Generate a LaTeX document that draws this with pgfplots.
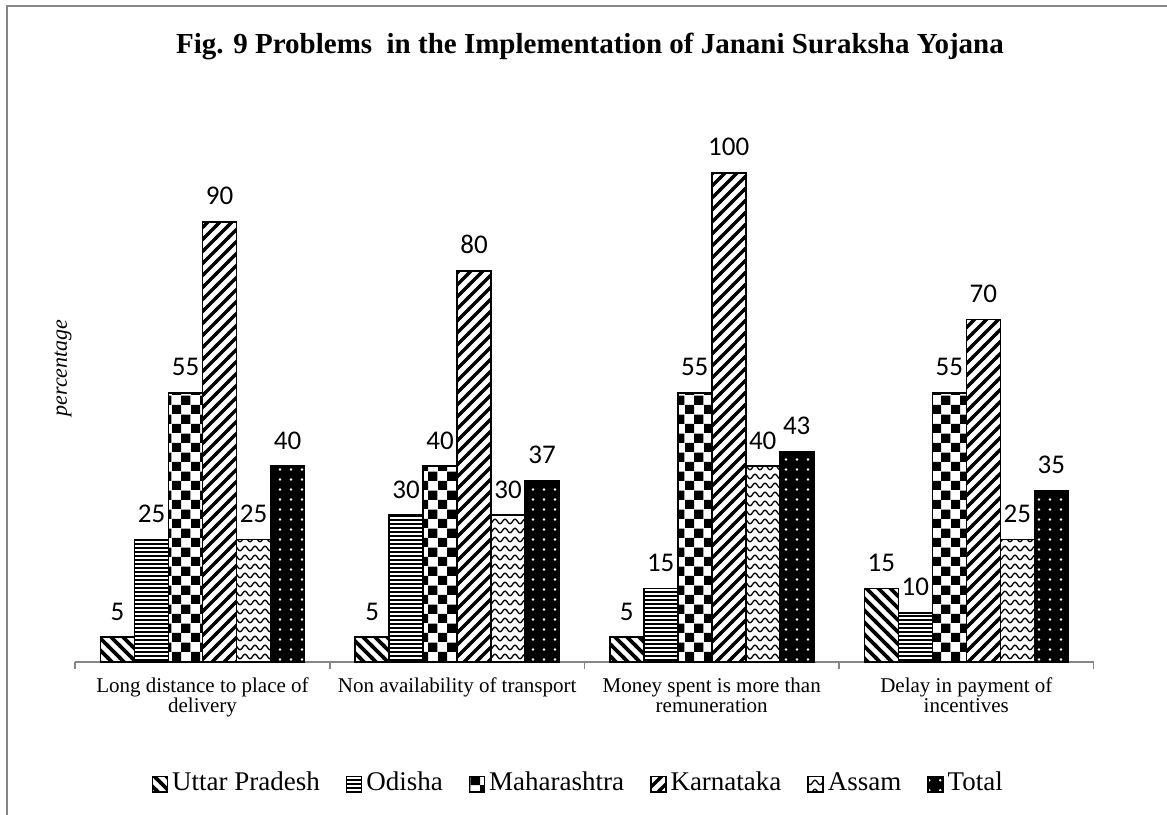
\documentclass[border=0pt]{standalone}
\usepackage{fontspec}
\setmainfont{Liberation Serif}
\newfontfamily\calibri{Carlito}
\usepackage{pgfplots}
\pgfplotsset{compat=1.18}
\usetikzlibrary{patterns}
\definecolor{axgray}{RGB}{134,134,134}

\pgfdeclarepatternformonly{nwstripes}{\pgfqpoint{-1pt}{-1pt}}{\pgfqpoint{7pt}{7pt}}{\pgfqpoint{6pt}{6pt}}{%
  \pgfsetlinewidth{1.8pt}%
  \pgfpathmoveto{\pgfqpoint{-1pt}{7pt}}\pgfpathlineto{\pgfqpoint{7pt}{-1pt}}\pgfusepath{stroke}}
\pgfdeclarepatternformonly{nestripes}{\pgfqpoint{-1pt}{-1pt}}{\pgfqpoint{7pt}{7pt}}{\pgfqpoint{6pt}{6pt}}{%
  \pgfsetlinewidth{1.6pt}%
  \pgfpathmoveto{\pgfqpoint{-1pt}{-1pt}}\pgfpathlineto{\pgfqpoint{7pt}{7pt}}\pgfusepath{stroke}}
\pgfdeclarepatternformonly{hstripes}{\pgfqpoint{-0.2pt}{0pt}}{\pgfqpoint{2.2pt}{2pt}}{\pgfqpoint{2pt}{2pt}}{%
  \pgfsetlinewidth{0.8pt}%
  \pgfpathmoveto{\pgfqpoint{-0.2pt}{1pt}}\pgfpathlineto{\pgfqpoint{2.2pt}{1pt}}\pgfusepath{stroke}}
\pgfdeclarepatternformonly{checker}{\pgfqpoint{0pt}{0pt}}{\pgfqpoint{9.6pt}{9.6pt}}{\pgfqpoint{9.6pt}{9.6pt}}{%
  \pgfpathrectangle{\pgfqpoint{0pt}{0pt}}{\pgfqpoint{4.8pt}{4.8pt}}%
  \pgfpathrectangle{\pgfqpoint{4.8pt}{4.8pt}}{\pgfqpoint{4.8pt}{4.8pt}}%
  \pgfusepath{fill}}
\pgfdeclarepatternformonly{waves}{\pgfqpoint{-0.2pt}{0pt}}{\pgfqpoint{5.2pt}{4.5pt}}{\pgfqpoint{5pt}{4.5pt}}{%
  \pgfsetlinewidth{0.65pt}%
  \pgfpathmoveto{\pgfqpoint{0pt}{1.1pt}}%
  \pgfpathcurveto{\pgfqpoint{1pt}{1.1pt}}{\pgfqpoint{1.5pt}{3.4pt}}{\pgfqpoint{2.5pt}{3.4pt}}%
  \pgfpathcurveto{\pgfqpoint{3.5pt}{3.4pt}}{\pgfqpoint{4pt}{1.1pt}}{\pgfqpoint{5pt}{1.1pt}}%
  \pgfusepath{stroke}}
\pgfdeclarepatternformonly{wdots}{\pgfqpoint{0pt}{0pt}}{\pgfqpoint{5.5pt}{5pt}}{\pgfqpoint{5.5pt}{5pt}}{%
  \pgfpathcircle{\pgfqpoint{2.75pt}{2.5pt}}{0.75pt}\pgfusepath{fill}}

\begin{document}
\begin{tikzpicture}
\useasboundingbox (0pt,0pt) rectangle (583.5pt,407pt);
\draw[axgray, line width=1pt] (3.7pt,-2pt) -- (3.7pt,403.8pt) -- (590pt,403.8pt);
\node[font=\bfseries\fontsize{14.5}{17}\selectfont] at (295pt,383.5pt) {Fig. 9 Problems\ \ in the Implementation of Janani Suraksha Yojana};
\node[rotate=90, font=\itshape\fontsize{11}{13}\selectfont] at (31.5pt,223pt) {percentage};
\begin{axis}[
  at={(37.6pt,76.15pt)}, anchor=south west,
  scale only axis, width=509.2pt, height=268.8pt,
  xmin=-0.5, xmax=3.5, ymin=0, ymax=110,
  ybar=0pt, bar width=17pt,
  axis x line*=bottom, hide y axis,
  x axis line style={-, axgray, line width=0.8pt},
  xtick={0,1,2,3},
  xticklabels={{Long distance to place of\\delivery},{Non availability of transport},{Money spent is more than\\remuneration},{Delay in payment of\\incentives}},
  xticklabel style={font=\fontsize{10.5}{10}\selectfont, align=center, yshift=-4.5pt},
  major tick length=0pt,
  minor xtick={-0.5,0.5,1.5,2.5,3.5},
  minor tick length=3.5pt, tick align=outside,
  minor tick style={axgray, line width=0.8pt},
  clip=false,
  /pgf/number format/assume math mode=true,
  nodes near coords,
  every node near coord/.append style={font=\calibri\fontsize{13.5}{14}\selectfont, anchor=south, inner sep=0pt, yshift=8pt, text=black},
  legend style={at={(0.495,-0.228)}, anchor=center, draw=none, font=\fontsize{13.5}{15}\selectfont,
    nodes={text height=9.5pt, text depth=3pt},
    legend columns=-1, /tikz/every even column/.append style={column sep=11pt}},
  legend image code/.code={\draw[#1, line width=0.7pt] (0pt,-3.8pt) rectangle (7.5pt,3.8pt);},
  every axis plot/.append style={draw=black, line width=0.8pt},
]
\addplot[pattern=nwstripes] coordinates {(0,5) (1,5) (2,5) (3,15)};
\addplot[pattern=hstripes] coordinates {(0,25) (1,30) (2,15) (3,10)};
\addplot[pattern=checker] coordinates {(0,55) (1,40) (2,55) (3,55)};
\addplot[pattern=nestripes] coordinates {(0,90) (1,80) (2,100) (3,70)};
\addplot[pattern=waves] coordinates {(0,25) (1,30) (2,40) (3,25)};
\addplot[fill=black, postaction={pattern=wdots, pattern color=white}] coordinates {(0,40) (1,37) (2,43) (3,35)};
\legend{Uttar Pradesh,Odisha,Maharashtra,Karnataka,Assam,Total}
\end{axis}
\end{tikzpicture}
\end{document}
